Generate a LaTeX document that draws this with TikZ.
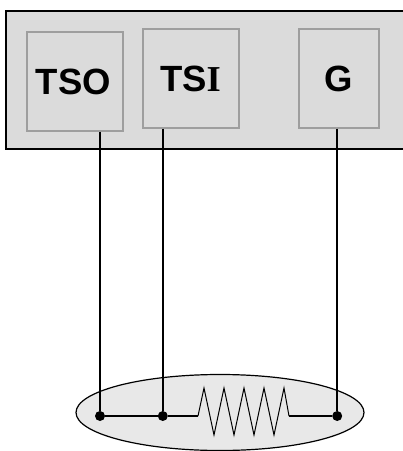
\documentclass[tikz,border=0pt]{standalone}
\usepackage{fontspec}
\setmainfont{Liberation Sans}
\newfontfamily\serifi{Liberation Serif}
\begin{document}
\begin{tikzpicture}[x=1pt,y=-1pt,
  pin/.style={draw=black!38,line width=1.5pt,fill=none,inner sep=0pt,anchor=north west},
  lab/.style={font=\fontsize{36.5pt}{40pt}\selectfont\bfseries,inner sep=0pt,text=black},
  wire/.style={draw=black,line width=1.5pt},
  dot/.style={circle,fill=black,inner sep=0pt,minimum size=10pt}]
\useasboundingbox (0,0) rectangle (403,451);
\fill[black!14] (6,11) rectangle (403,149);
\draw[line width=1.6pt] (403,11) -- (6,11) -- (6,149) -- (403,149);
\node[pin,minimum width=96pt,minimum height=99pt] (tso) at (26,31) {};
\node[pin,minimum width=96pt,minimum height=99pt] (tsi) at (142,28) {};
\node[pin,minimum width=80pt,minimum height=99pt] (g) at (298,28) {};
\node[lab] (tsol) at (73.5,81.5) {TSO};
\node[lab] (tsil) at (190.5,78.5) {TS{\serifi I}};
\node[lab] (gl) at (339,79) {G};
\draw[draw=black,line width=1.2pt,fill=black!9] (220,412.5) ellipse [x radius=144,y radius=38];
\node[dot] (d1) at (100,416) {};
\node[dot] (d2) at (162.8,416) {};
\node[dot] (d3) at (337.2,416) {};
\coordinate (t1) at (tso.south west -| d1);
\coordinate (t2) at (tsi.south west -| d2);
\coordinate (t3) at (g.south west -| d3);
\draw[wire,line width=1.9pt] (t1) -- (d1);
\draw[wire] (t2) -- (d2);
\draw[wire,line width=1.9pt] (t3) -- (d3);
\draw[wire] (d1) -- (d2);
\coordinate (r1) at (198,416);
\coordinate (r2) at (289,416);
\draw[wire] (d2) -- (r1);
\draw[wire] (r2) -- (d3);
\draw[line width=1pt,line join=miter] (r1) -- (204,388) -- (214,435) -- (224,388) -- (234,435) -- (244,388) -- (254,435) -- (264,388) -- (274,435) -- (284,388) -- (r2);
\end{tikzpicture}
\end{document}
